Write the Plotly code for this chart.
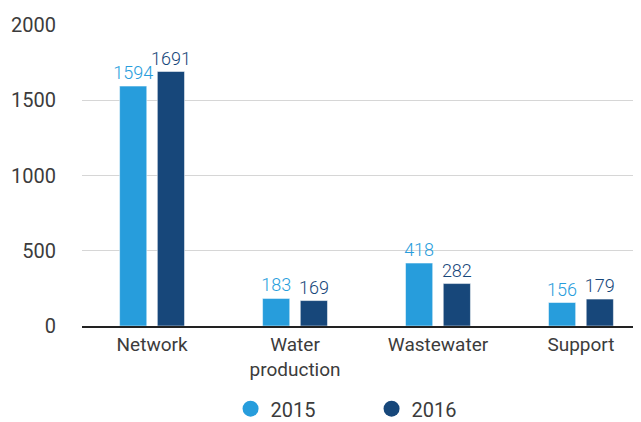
import plotly.graph_objects as go

categories = ["Network", "Water<br>production", "Wastewater", "Support"]
values_2015 = [1594, 183, 418, 156]
values_2016 = [1691, 169, 282, 179]
y_ticks = [0, 500, 1000, 1500, 2000]

LIGHT = "#279DDC"
DARK = "#17477A"
FONT = "Roboto, Arial, sans-serif"
TEXT = "#3C3C3C"

fig = go.Figure()
for name, vals, color, offset in [
    ("2015", values_2015, LIGHT, -0.227),
    ("2016", values_2016, DARK, 0.037),
]:
    fig.add_trace(
        go.Bar(
            x=categories,
            y=vals,
            name=name,
            marker_color=color,
            width=0.19,
            offset=offset,
            text=[str(v) for v in vals],
            textposition="outside",
            constraintext="none",
            textfont={"color": color, "size": 18, "family": FONT, "weight": 300},
            cliponaxis=False,
            showlegend=False,
        )
    )
    # legend entry with a round marker
    fig.add_trace(
        go.Scatter(
            x=[None],
            y=[None],
            mode="markers",
            name=name,
            marker={"color": color, "size": 22, "symbol": "circle"},
        )
    )

# page body adds an 8px margin, so the figure is a bit smaller than the window
fig.update_layout(
    width=633,
    height=414,
    template="plotly_white",
    paper_bgcolor="#FFFFFF",
    plot_bgcolor="#FFFFFF",
    font={"family": FONT, "color": TEXT, "size": 19},
    margin={"l": 74, "r": 0, "t": 17, "b": 96, "autoexpand": False},
    barmode="overlay",
    legend={
        "orientation": "h",
        "x": 0.518,
        "xanchor": "center",
        "y": -0.21,
        "yanchor": "top",
        "font": {"size": 20, "color": TEXT},
        "itemwidth": 30,
        "entrywidth": 96,
        "entrywidthmode": "pixels",
    },
)
fig.update_xaxes(
    range=[-0.49, 3.42],
    automargin=False,
    showgrid=False,
    showline=True,
    linecolor="#222222",
    linewidth=2,
    ticks="",
    tickfont={"size": 19, "color": TEXT},
)
fig.update_yaxes(
    range=[0, 2000],
    automargin=False,
    tickvals=y_ticks,
    gridcolor="#D6D6D6",
    zeroline=False,
    ticks="",
    ticklabelstandoff=25,
    tickfont={"size": 20, "color": TEXT},
)

fig.write_html("out.html")
